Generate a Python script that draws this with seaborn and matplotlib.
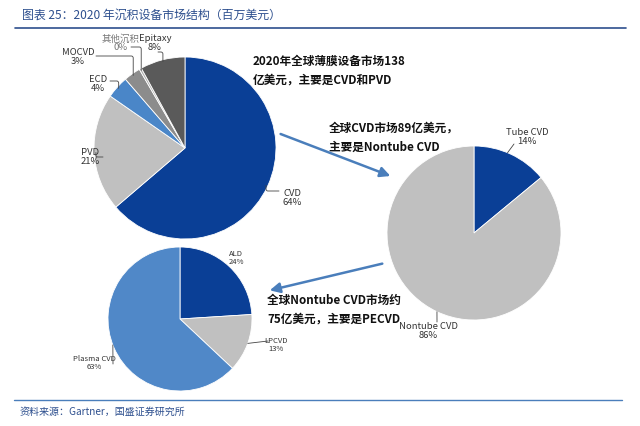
import numpy as np
import matplotlib
matplotlib.use("Agg")
import matplotlib.pyplot as plt
import seaborn as sns

sns.set_theme(style="white")
plt.rcParams["font.family"] = ["Noto Sans CJK SC", "DejaVu Sans"]

# 2020 沉积设备市场结构
dep_labels = ["CVD", "PVD", "ECD", "MOCVD", "其他沉积", "Epitaxy"]
dep_share = [64, 21, 4, 3, 0.4, 8]
dep_pct = ["64%", "21%", "4%", "3%", "0%", "8%"]

cvd_labels = ["Tube CVD", "Nontube CVD"]
cvd_share = [14, 86]

nontube_labels = ["ALD", "LPCVD", "Plasma CVD"]
nontube_share = [24, 13, 63]

DARK_BLUE = "#0a3f96"
MID_BLUE = "#4a86c8"
PLASMA_BLUE = "#5088c8"
LIGHT_GRAY = "#c0c0c0"
MID_GRAY = "#8c8c8c"
DARK_GRAY = "#5a5a5a"

W, H = 640, 426


def py(y):
    # 像素坐标 (从上往下) -> 数据坐标
    return H - y


def edge_point(values, idx, cx, cy, r, frac=0.5):
    total = sum(values)
    start = sum(values[:idx]) / total
    mid = start + values[idx] / total * frac
    ang = np.deg2rad(90 - mid * 360)
    return cx + r * np.cos(ang), cy + r * np.sin(ang)


fig = plt.figure(figsize=(6.4, 4.26), dpi=100)
ax = fig.add_axes([0, 0, 1, 1])

wedge_kw = dict(edgecolor="white", linewidth=0.6)

# pie 1
c1 = (185, py(148))
r1 = 91
ax.pie(dep_share, colors=[DARK_BLUE, LIGHT_GRAY, MID_BLUE, MID_GRAY, "#b0b0b0", DARK_GRAY],
       startangle=90, counterclock=False, center=c1, radius=r1, wedgeprops=wedge_kw)

# pie 2
c2 = (474, py(233))
r2 = 87
ax.pie(cvd_share, colors=[DARK_BLUE, LIGHT_GRAY], startangle=90, counterclock=False,
       center=c2, radius=r2, wedgeprops=wedge_kw)

# pie 3
c3 = (180, py(319))
r3 = 72
ax.pie(nontube_share, colors=[DARK_BLUE, LIGHT_GRAY, PLASMA_BLUE], startangle=90,
       counterclock=False, center=c3, radius=r3, wedgeprops=wedge_kw)

ax.set_xlim(0, W)
ax.set_ylim(0, H)
ax.set_aspect("equal")
ax.axis("off")

lab_kw = dict(fontsize=6.8, color="#333333", ha="center", va="center", linespacing=1.0)
line_kw = dict(arrowstyle="-", color="#444444", lw=0.6, shrinkA=0, shrinkB=0)

# pie 1 labels
label_pos1 = [(292, 198), (90, 157), (98, 84), (78, 57), (121, 43), (155, 43)]
text_anchor1 = [(279, 191), (103, 157), (110, 81), (96, 56), (131, 47), (158, 52)]
for i, (lab, pct) in enumerate(zip(dep_labels, dep_pct)):
    tx, ty = label_pos1[i]
    color = "#777777" if lab == "其他沉积" else "#333333"
    ax.text(tx, py(ty), f"{lab}\n{pct}", **{**lab_kw, "color": color})
    ex, ey = edge_point(dep_share, i, c1[0], c1[1], r1 * 0.98)
    ax.annotate("", xy=(ex, ey), xytext=(text_anchor1[i][0], py(text_anchor1[i][1])),
                arrowprops={**line_kw, "connectionstyle": "angle,angleA=0,angleB=90,rad=2"})

# pie 2 labels
cvd_pct = [f"{v}%" for v in cvd_share]
label_pos2 = [(527, 137), (428, 331)]
text_anchor2 = [(514, 144), (437, 322)]
frac2 = [0.45, 0.5]
for i, lab in enumerate(cvd_labels):
    tx, ty = label_pos2[i]
    ax.text(tx, py(ty), f"{lab}\n{cvd_pct[i]}", **lab_kw)
    ex, ey = edge_point(cvd_share, i, c2[0], c2[1], r2, frac=frac2[i])
    ax.annotate("", xy=(ex, ey), xytext=(text_anchor2[i][0], py(text_anchor2[i][1])),
                arrowprops=line_kw)

# pie 3 labels
nt_pct = [f"{v}%" for v in nontube_share]
label_pos3 = [(236, 258), (276, 345), (94, 363)]
text_anchor3 = [None, (268, 341), (113, 364)]
frac3 = [0.5, 0.5, 0.51]
for i, lab in enumerate(nontube_labels):
    tx, ty = label_pos3[i]
    ax.text(tx, py(ty), f"{lab}\n{nt_pct[i]}", **{**lab_kw, "fontsize": 5.5})
    if text_anchor3[i] is not None:
        ex, ey = edge_point(nontube_share, i, c3[0], c3[1], r3, frac=frac3[i])
        ax.annotate("", xy=(ex, ey), xytext=(text_anchor3[i][0], py(text_anchor3[i][1])),
                    arrowprops=line_kw)

# 说明文字
note_kw = dict(fontsize=8.4, fontweight="bold", color="#111111", ha="left", va="center",
               linespacing=1.6)
ax.text(253, py(71), "2020年全球薄膜设备市场138\n亿美元，主要是CVD和PVD", **note_kw)
ax.text(329, py(138), "全球CVD市场89亿美元，\n主要是Nontube CVD", **note_kw)
ax.text(267, py(310), "全球Nontube CVD市场约\n75亿美元，主要是PECVD", **note_kw)

arrow_kw = dict(arrowstyle="-|>,head_length=0.5,head_width=0.25", color="#4a7ebb", lw=1.8)
ax.annotate("", xy=(393, py(177)), xytext=(278, py(133)), arrowprops=arrow_kw)
ax.annotate("", xy=(267, py(291)), xytext=(385, py(263)), arrowprops=arrow_kw)

# 标题与来源
ax.text(22, py(15), "图表 25：2020 年沉积设备市场结构（百万美元）", fontsize=8.6,
        fontstyle="italic", color="#2d4f8e", ha="left", va="center")
ax.plot([15, 626], [py(28), py(28)], color="#2d4f8e", lw=1.2)
ax.plot([14, 622], [py(400), py(400)], color="#4a7ebb", lw=1.0)
ax.text(20, py(412), "资料来源：Gartner，国盛证券研究所", fontsize=7.2,
        fontstyle="italic", color="#2d4f8e", ha="left", va="center")

fig.savefig("out.png", dpi=100)
